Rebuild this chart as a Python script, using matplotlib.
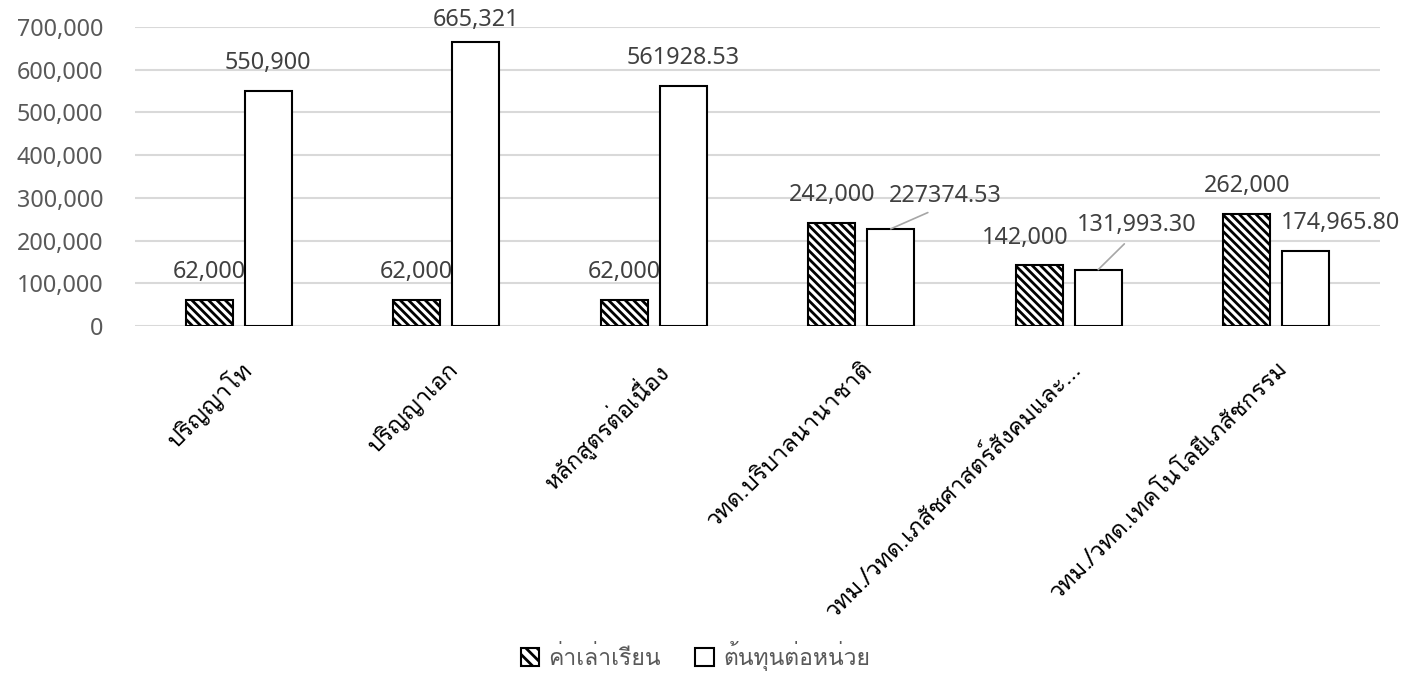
import matplotlib
matplotlib.use('Agg')
import matplotlib.pyplot as plt
import numpy as np
from matplotlib import font_manager
from matplotlib.ft2font import FT2Font
from matplotlib.patches import Patch

categories = ['ปริญญาโท', 'ปริญญาเอก', 'หลักสูตรต่อเนื่อง', 'วทด.บริบาลนานาชาติ',
              'วทม./วทด.เภสัชศาสตร์สังคมและ...', 'วทม./วทด.เทคโนโลยีเภสัชกรรม']
tuition = [62000, 62000, 62000, 242000, 142000, 262000]
unit_cost = [550900, 665321, 561928.53, 227374.53, 131993.30, 174965.80]
tuition_labels = ['62,000', '62,000', '62,000', '242,000', '142,000', '262,000']
cost_labels = ['550,900', '665,321', '561928.53', '227374.53', '131,993.30', '174,965.80']
series_names = ['ค่าเล่าเรียน', 'ต้นทุนต่อหน่วย']
y_ticks = [0, 100000, 200000, 300000, 400000, 500000, 600000, 700000]


def thai_family():
    # first installed family that has Thai glyphs
    for f in font_manager.fontManager.ttflist:
        try:
            if 0x0E01 in FT2Font(f.fname).get_charmap():
                return f.name
        except Exception:
            pass
    return None


thai = thai_family()
families = ['Noto Sans', 'DejaVu Sans']
if thai:
    families = [thai] + families
plt.rcParams['font.family'] = ['Noto Sans', 'DejaVu Sans'] if not thai else ['Noto Sans', thai, 'DejaVu Sans']
plt.rcParams['hatch.linewidth'] = 2.0

fig = plt.figure(figsize=(14.05, 6.74), dpi=100)
ax = fig.add_axes([135 / 1405, 1 - 326 / 674, 1245 / 1405, 299 / 674])

x = np.arange(len(categories))
w = 0.2265
off = 0.142
hatch = '\\\\\\\\'
b1 = ax.bar(x - off, tuition, w, color='white', edgecolor='black', hatch=hatch, linewidth=1.5, zorder=3)
b2 = ax.bar(x + off, unit_cost, w, color='white', edgecolor='black', linewidth=1.5, zorder=3)

ax.set_xlim(-0.5, len(categories) - 0.5)
ax.set_ylim(0, 700000)
ax.set_yticks(y_ticks)
ax.set_yticklabels([f'{v:,}' for v in y_ticks], color='#595959', fontsize=16.8)
ax.yaxis.grid(True, color='#d9d9d9', linewidth=1.5, zorder=0)
ax.set_axisbelow(True)
ax.tick_params(axis='y', length=0, pad=23)
ax.tick_params(axis='x', length=0, pad=22)
for s in ax.spines.values():
    s.set_visible(False)

ax.set_xticks(x)
ax.set_xticklabels(categories, rotation=45, ha='right', rotation_mode='anchor',
                   fontsize=17, family=families)

label_kw = dict(ha='center', va='center', fontsize=16.8, color='#404040', textcoords='offset points')

# tuition labels; second-to-last pushed a bit left
t_off = [(0, 20), (0, 20), (0, 20), (0, 20), (-10, 20), (0, 20)]
for i, r in enumerate(b1):
    ax.annotate(tuition_labels[i], (r.get_x() + r.get_width() / 2, r.get_height()),
                xytext=t_off[i], **label_kw)

# unit cost labels; some moved aside with a leader line
c_off = [(0, 20), (0, 16), (0, 20), (39, 24), (28, 32), (25, 20)]
leader = [False, False, False, True, True, False]
for i, r in enumerate(b2):
    kw = dict(label_kw)
    if leader[i]:
        kw['arrowprops'] = dict(arrowstyle='-', color='#a6a6a6', lw=1.2, shrinkA=4, shrinkB=0,
                                relpos=(0.45, 0.0))
    ax.annotate(cost_labels[i], (r.get_x() + r.get_width() / 2, r.get_height()),
                xytext=c_off[i], **kw)

handles = [Patch(facecolor='white', edgecolor='black', hatch='\\\\\\', linewidth=1.5),
           Patch(facecolor='white', edgecolor='black', linewidth=1.5)]
leg = fig.legend(handles, series_names, loc='center', bbox_to_anchor=(0.495, 0.027), ncol=2,
                 frameon=False, handlelength=0.8, handleheight=0.8, handletextpad=0.4,
                 columnspacing=1.5, prop={'family': families, 'size': 16.5})
for t in leg.get_texts():
    t.set_color('#595959')

fig.savefig('out.png', dpi=100)
